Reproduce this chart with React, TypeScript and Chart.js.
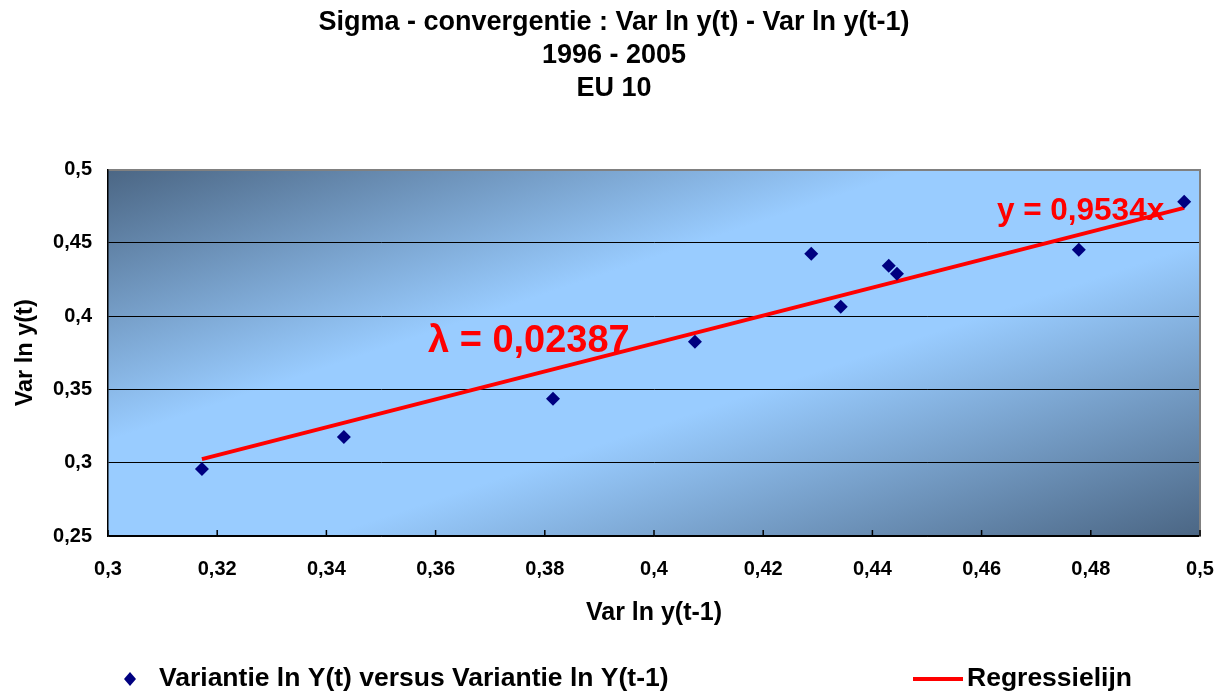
import React, { useEffect, useRef } from 'react';
import { Chart, registerables } from 'chart.js';

Chart.register(...registerables);

const titleLines = ['Sigma - convergentie : Var ln y(t) - Var ln y(t-1)', '1996 - 2005', 'EU 10'];
const xAxisTitle = 'Var ln y(t-1)';
const yAxisTitle = 'Var ln y(t)';
const seriesName = 'Variantie ln Y(t) versus Variantie ln Y(t-1)';
const lineName = 'Regressielijn';

const varPrev = [0.3172, 0.3432, 0.3815, 0.4075, 0.4288, 0.4342, 0.443, 0.4445, 0.4778, 0.4971];
const varCurr = [0.2958, 0.3176, 0.3436, 0.3825, 0.4426, 0.4064, 0.4344, 0.429, 0.4454, 0.4781];
const slope = 0.9534;

const xMin = 0.3, xMax = 0.5, xStep = 0.02;
const yMin = 0.25, yMax = 0.5, yStep = 0.05;

const lambdaText = 'λ = 0,02387';
const lambdaAt = { x: 0.3586, y: 0.3757 };
const eqText = 'y = 0,9534x';
const eqAt = { x: 0.4628, y: 0.4658 };

const FONT = '"Liberation Sans", Arial, Helvetica, sans-serif';
const NAVY = '#000080';
const RED = '#ff0000';

const fmt = (v: number) => String(Math.round(v * 1000) / 1000).replace('.', ',');

export default function App() {
  const ref = useRef<HTMLCanvasElement | null>(null);

  useEffect(() => {
    const canvas = ref.current;
    if (!canvas) return;

    const scatterPts = varPrev.map((x, i) => ({ x, y: varCurr[i] }));
    const lo = Math.min(...varPrev);
    const hi = Math.max(...varPrev);
    const linePts = [
      { x: lo, y: slope * lo },
      { x: hi, y: slope * hi },
    ];

    const bgPlugin = {
      id: 'bgGradient',
      beforeDraw(chart: any) {
        const { ctx, chartArea: a } = chart;
        const w = a.right - a.left;
        const h = a.bottom - a.top;
        const s = 2 / (1 / (w * w) + 1 / (h * h));
        const g = ctx.createLinearGradient(a.left, a.top, a.left + s / w, a.top + s / h);
        g.addColorStop(0, '#4b6684');
        g.addColorStop(0.37, '#99ccff');
        g.addColorStop(0.6, '#99ccff');
        g.addColorStop(1, '#4b6684');
        ctx.save();
        ctx.fillStyle = g;
        ctx.fillRect(a.left, a.top, w, h);
        ctx.restore();
      },
      afterDraw(chart: any) {
        const { ctx, chartArea: a, scales } = chart;
        ctx.save();
        // x tick marks (inside the plot)
        ctx.strokeStyle = '#000';
        ctx.lineWidth = 1.5;
        scales.x.ticks.forEach((t: any) => {
          const px = scales.x.getPixelForValue(t.value);
          ctx.beginPath();
          ctx.moveTo(px, a.bottom - 6);
          ctx.lineTo(px, a.bottom);
          ctx.stroke();
        });

        // annotations
        ctx.fillStyle = RED;
        ctx.textBaseline = 'alphabetic';
        ctx.textAlign = 'left';
        ctx.font = `bold 38px ${FONT}`;
        ctx.fillText(lambdaText, scales.x.getPixelForValue(lambdaAt.x), scales.y.getPixelForValue(lambdaAt.y));
        ctx.font = `bold 31.5px ${FONT}`;
        ctx.fillText(eqText, scales.x.getPixelForValue(eqAt.x), scales.y.getPixelForValue(eqAt.y));

        // legend
        const ly = 679;
        ctx.fillStyle = NAVY;
        ctx.beginPath();
        ctx.moveTo(130, ly - 7);
        ctx.lineTo(136, ly);
        ctx.lineTo(130, ly + 7);
        ctx.lineTo(124, ly);
        ctx.closePath();
        ctx.fill();
        ctx.fillStyle = '#000';
        ctx.font = `bold 26.5px ${FONT}`;
        ctx.textBaseline = 'middle';
        ctx.fillText(seriesName, 159, ly);
        ctx.strokeStyle = RED;
        ctx.lineWidth = 4;
        ctx.beginPath();
        ctx.moveTo(913, ly);
        ctx.lineTo(963, ly);
        ctx.stroke();
        ctx.fillText(lineName, 967, ly);
        ctx.restore();
      },
    };

    const chart = new Chart(canvas, {
      type: 'scatter',
      data: {
        datasets: [
          {
            label: seriesName,
            data: scatterPts,
            pointStyle: 'rectRot',
            pointRadius: 7,
            pointHoverRadius: 7,
            backgroundColor: NAVY,
            borderColor: NAVY,
            borderWidth: 0,
            order: 1,
          },
          {
            label: lineName,
            type: 'line',
            data: linePts,
            showLine: true,
            borderColor: RED,
            borderWidth: 4,
            pointRadius: 0,
            fill: false,
            order: 2,
          } as any,
        ],
      },
      options: {
        responsive: false,
        animation: false,
        layout: { padding: { left: 0, right: 0, top: 0, bottom: 50 } },
        plugins: {
          legend: { display: false },
          tooltip: { enabled: false },
          title: {
            display: true,
            text: titleLines,
            color: '#000',
            font: { family: FONT, size: 27, weight: 'bold', lineHeight: 1.23 },
            padding: { top: 6, bottom: 64 },
          },
        },
        scales: {
          x: {
            type: 'linear',
            min: xMin,
            max: xMax,
            afterFit(scale: any) {
              scale.height = 106;
            },
            ticks: {
              stepSize: xStep,
              color: '#000',
              padding: 4,
              font: { family: FONT, size: 20, weight: 'bold' },
              callback: (v: any) => fmt(Number(v)),
            },
            grid: { drawOnChartArea: false, drawTicks: true, tickLength: 17, tickColor: 'rgba(0,0,0,0)' },
            border: { color: '#000', width: 1.5 },
            title: {
              display: true,
              text: xAxisTitle,
              color: '#000',
              font: { family: FONT, size: 25, weight: 'bold' },
              padding: { top: 0, bottom: 14 },
            },
          },
          y: {
            type: 'linear',
            min: yMin,
            max: yMax,
            afterFit(scale: any) {
              scale.width = 108;
            },
            ticks: {
              stepSize: yStep,
              color: '#000',
              padding: 16,
              font: { family: FONT, size: 20, weight: 'bold' },
              callback: (v: any) => fmt(Number(v)),
            },
            grid: {
              drawTicks: false,
              color: (c: any) => (c.tick && Math.abs(c.tick.value - yMax) < 1e-9 ? '#808080' : '#000'),
              lineWidth: (c: any) => (c.tick && Math.abs(c.tick.value - yMax) < 1e-9 ? 2 : 1),
            },
            border: { color: '#000', width: 1.5 },
            title: {
              display: true,
              text: yAxisTitle,
              color: '#000',
              font: { family: FONT, size: 23.5, weight: 'bold' },
              padding: { top: 11, bottom: 0 },
            },
          },
          yRight: {
            type: 'linear',
            position: 'right',
            min: yMin,
            max: yMax,
            afterFit(scale: any) {
              scale.width = 28;
            },
            ticks: { display: false },
            grid: { drawOnChartArea: false, drawTicks: false },
            border: { color: '#808080', width: 2 },
          },
        },
      },
      plugins: [bgPlugin],
    } as any);

    return () => chart.destroy();
  }, []);

  return (
    <div style={{ position: 'fixed', left: 0, top: 0, width: 1228, height: 692, background: '#fff' }}>
      <canvas ref={ref} width={1228} height={692} style={{ display: 'block', width: 1228, height: 692 }} />
    </div>
  );
}
